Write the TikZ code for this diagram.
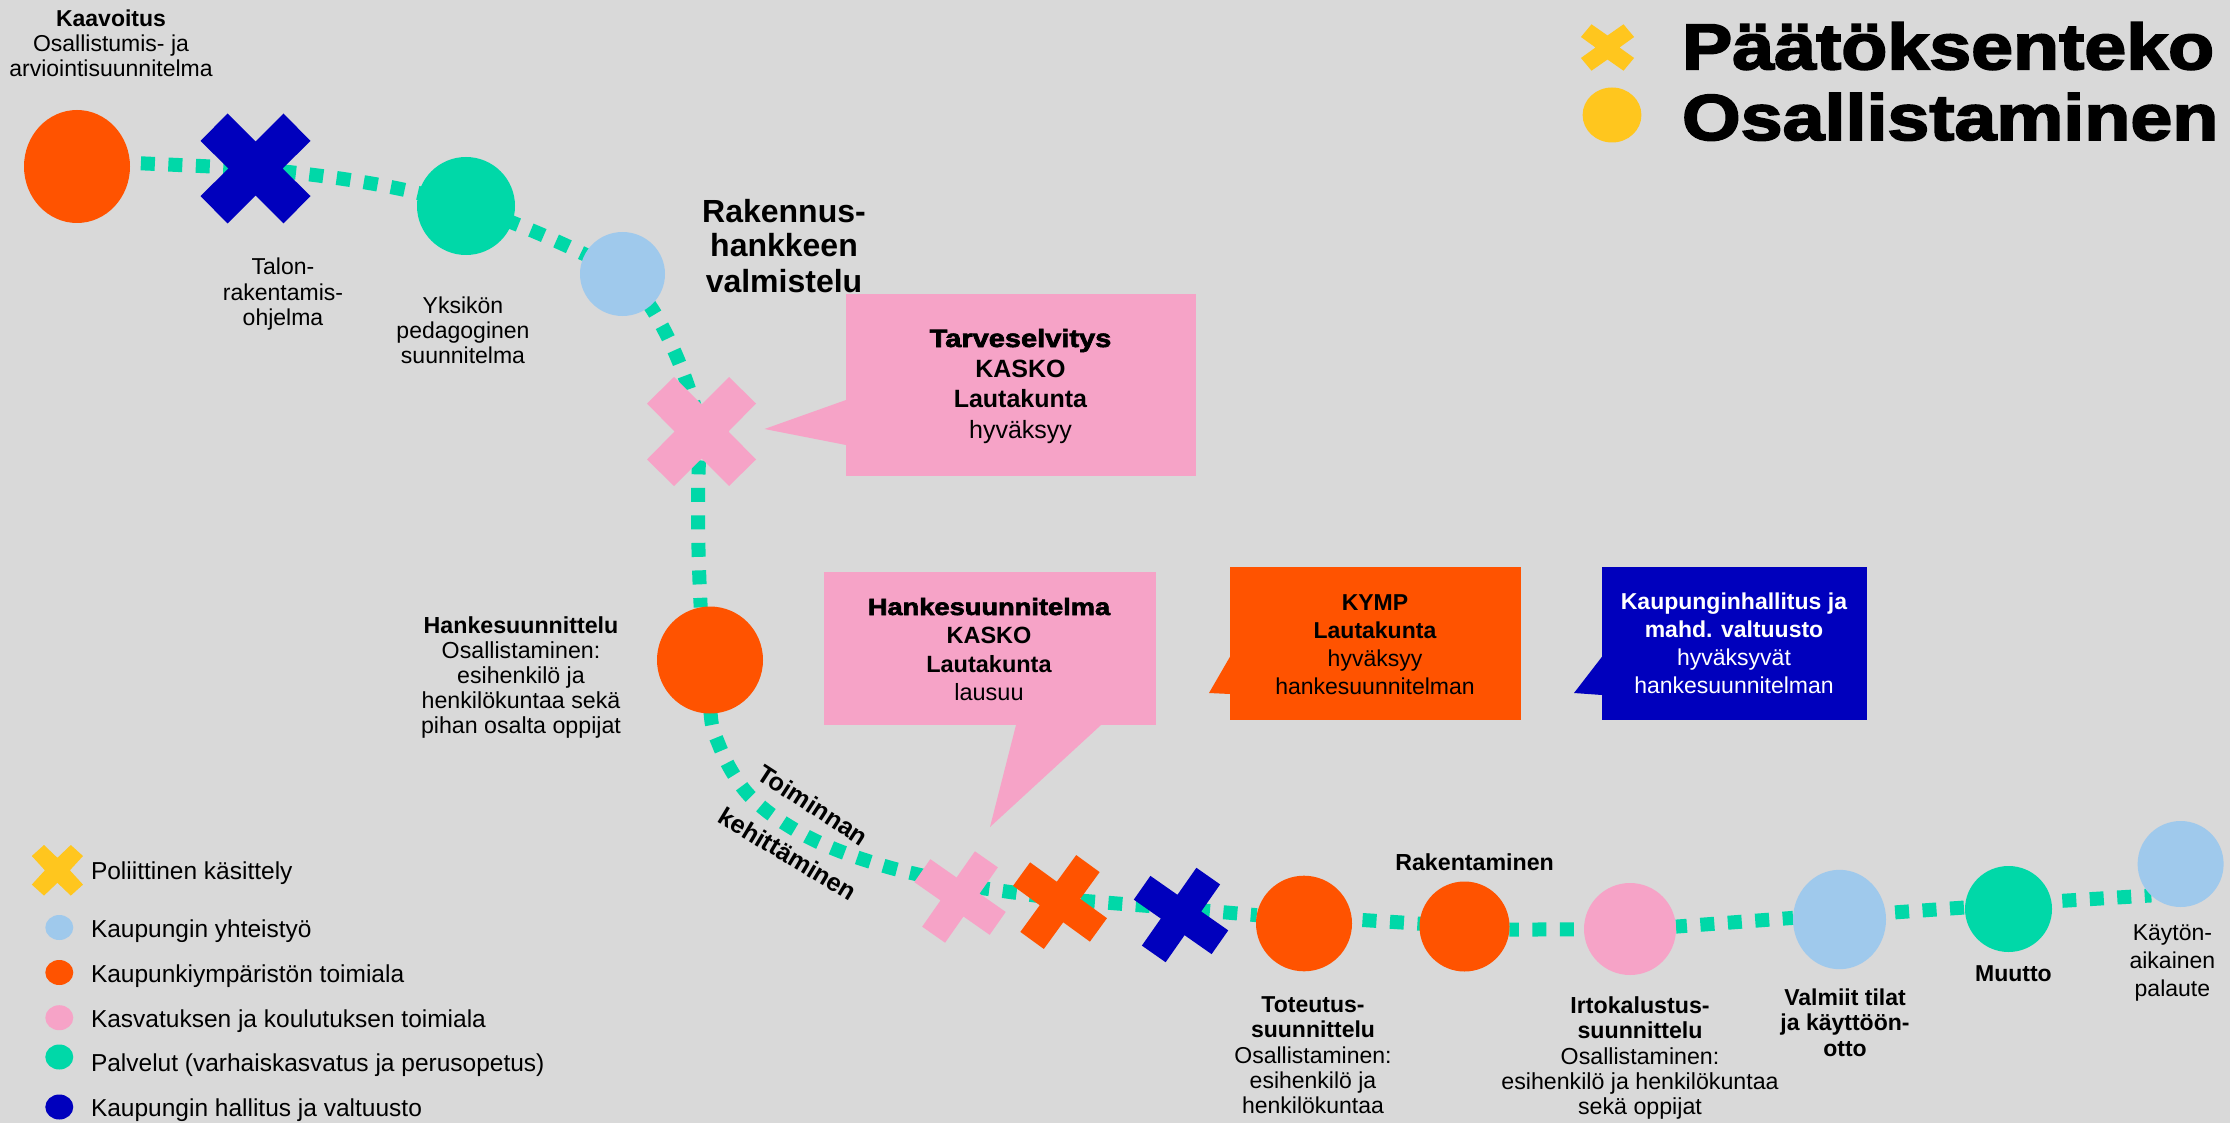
\documentclass[tikz,border=0pt]{standalone}
\usepackage{fontspec}
\setmainfont{Liberation Sans}
\newfontfamily\heavyfont[FakeBold=2.5]{Liberation Sans Bold}
\usetikzlibrary{shapes.geometric,calc}
\definecolor{cPaper}{HTML}{D9D9D9}
\definecolor{cOrange}{HTML}{FF5300}
\definecolor{cBlue}{HTML}{0000BD}
\definecolor{cGreen}{HTML}{00D8A8}
\definecolor{cSky}{HTML}{9FC9EC}
\definecolor{cPink}{HTML}{F6A3C7}
\definecolor{cYellow}{HTML}{FFC61E}
\pgfdeclarelayer{paper}
\pgfdeclarelayer{conn}
\pgfsetlayers{paper,conn,main}
\tikzset{
  conn/.style={draw=cGreen,line width=7pt,dash pattern=on 7pt off 6.75pt},
  stopnode/.style={ellipse,inner sep=0pt,outer sep=0pt,draw=none},
  crossnode/.style={inner sep=0pt,outer sep=0pt,minimum size=0pt},
  boxnode/.style={rectangle,inner sep=0pt,outer sep=0pt,draw=none},
  lbl/.style={inner sep=0pt,outer sep=0pt,align=center,anchor=north},
  slanted label/.style={inner sep=0pt,font=\fontsize{12.6}{14}\selectfont\bfseries}
}
% name, x, y, colour, rx, ry (pixels)
\newcommand{\stopdot}[6]{\node[stopnode,fill=#4,minimum width=#5pt,minimum height=#6pt] (#1) at (#2,#3) {};}
% name, x, y, colour, ax, ay, bx, by, c
\newcommand{\xcross}[9]{%
  \node[crossnode] (#1) at (#2,#3) {};
  \fill[#4,shift={(#2,#3)}] (#7,-#6) -- (#5,-#8) -- (#9,0) -- (#5,#8) -- (#7,#6) -- (0,#9) -- (-#7,#6) -- (-#5,#8) -- (-#9,0) -- (-#5,-#8) -- (-#7,-#6) -- (0,-#9) -- cycle;}
% name, x, y, colour, half length, half width, angle
\newcommand{\gcross}[7]{%
  \node[crossnode] (#1) at (#2,#3) {};
  \fill[#4,shift={(#2,#3)},rotate=#7] (#6,-#5) -- (#6,-#6) -- (#5,-#6) -- (#5,#6) -- (#6,#6) -- (#6,#5) -- (-#6,#5) -- (-#6,#6) -- (-#5,#6) -- (-#5,-#6) -- (-#6,-#6) -- (-#6,-#5) -- cycle;}
% [style], name, x, baseline y of first line (px), size pt, skip pt, text
\newcommand{\blk}[7][]{\node[lbl,font=\fontsize{#5}{#6}\selectfont,#1] (#2) at ({#3},{#4-1.8*#5}) {\rule{0pt}{\dimexpr#5pt*9/10\relax}#7};}
\newcommand{\heavy}[1]{{\heavyfont\scalebox{1.16}[1]{#1}}}
\begin{document}
\begin{tikzpicture}[x=0.5pt,y=-0.5pt]
\useasboundingbox (0,0) rectangle (2230,1123);
\begin{pgfonlayer}{paper}
\fill[cPaper] (0,0) rectangle (2230,1123);
\end{pgfonlayer}

% stops along the route
\stopdot{c1}{77}{166.5}{cOrange}{53}{56.5}
\xcross{x1}{255.5}{168.5}{cBlue}{55}{55}{28}{27.5}{27}
\stopdot{c2}{466}{206}{cGreen}{49}{49}
\stopdot{c3}{622.5}{274}{cSky}{42.5}{42}
\xcross{x2}{701.5}{431.5}{cPink}{54.5}{54.5}{27.5}{28}{27}
\stopdot{c4}{710}{660}{cOrange}{53}{53.5}
\gcross{x3}{960}{897}{cPink}{46}{14}{-35}
\gcross{x4}{1060}{902}{cOrange}{47.5}{14.5}{-36}
\gcross{x5}{1181}{915}{cBlue}{47.5}{14.5}{-35}
\stopdot{c5}{1304}{923.5}{cOrange}{48}{47.8}
\stopdot{c6}{1464.5}{926.5}{cOrange}{45}{45}
\stopdot{c7}{1630}{929}{cPink}{46}{46}
\stopdot{c8}{1839.5}{919.5}{cSky}{46.5}{49.7}
\stopdot{c9}{2008.5}{909}{cGreen}{43.5}{43}
\stopdot{c10}{2180.6}{864}{cSky}{43}{43}

% dotted route
\begin{pgfonlayer}{conn}
\draw[conn,dash phase=8.25pt] (c1.4) -- (x1.center);
\draw[conn,dash phase=0.4pt] (x1.center) .. controls (330,176) and (400,185) .. (c2.center);
\draw[conn,dash phase=6.65pt] (c2.center) .. controls (510,220) and (570,245) .. (c3.center);
\draw[conn,dash phase=8.5pt] (c3.center) .. controls (655,300) and (685,365) .. (x2.center);
\draw[conn,dash phase=13pt] (x2.center) .. controls (696,470) and (698,560) .. (c4.100);
\draw[conn,dash phase=2pt] plot[smooth,tension=.55] coordinates {(c4.center) (711,718) (719,745) (731,770) (747,793) (768,812) (792,828) (816,841) (842,852) (868,861) (895,869) (920,875) ([yshift=6pt]x3.center)};
\draw[conn,dash phase=5.95pt] ([yshift=6pt]x3.center) -- ([yshift=1.5pt]x4.center);
\draw[conn,dash phase=3.25pt] ([yshift=1.5pt]x4.center) -- ([yshift=3.25pt]x5.center);
\draw[conn,dash phase=6.25pt] ([yshift=3.25pt]x5.center) -- (c5.170);
\draw[conn,dash phase=8.4pt] (c5.5) -- (c6.center);
\draw[conn,dash phase=2.25pt] (c6.-4) -- (c7.center);
\draw[conn,dash phase=1.5pt] (c7.3.5) -- (c8.178);
\draw[conn,dash phase=9pt] (c8.8) -- (c9.178);
\draw[conn,dash phase=8.25pt] (c9.10.4) -- (c10.227);
\end{pgfonlayer}

% callouts
\fill[cPink] (846,400) -- (764.5,429) -- (846,445) -- cycle;
\node[boxnode,fill=cPink,minimum width=175pt,minimum height=90.85pt] (bTarve) at (1021,384.85) {};
\fill[cPink] (1016,725) -- (990,827) -- (1101,725) -- cycle;
\node[boxnode,fill=cPink,minimum width=166pt,minimum height=76.5pt] (bHanke) at (989.5,648.5) {};
\fill[cOrange] (1230,656.7) -- (1209,693) -- (1230,694) -- cycle;
\node[boxnode,fill=cOrange,minimum width=145.25pt,minimum height=76.65pt] (bKymp) at (1375.25,643.35) {};
\fill[cBlue] (1602,656.7) -- (1574,693) -- (1602,695) -- cycle;
\node[boxnode,fill=cBlue,minimum width=132.7pt,minimum height=76.65pt] (bHall) at (1734.7,643.35) {};

\blk{tTarve}{1020.5}{347}{12.5}{15.2}{\heavy{Tarveselvitys}\\\textbf{KASKO}\\\textbf{Lautakunta}\hspace*{5pt}\\hyväksyy}
\blk{tHanke}{989}{615}{11.75}{14.3}{\heavy{Hankesuunnitelma}\\\textbf{KASKO}\\\textbf{Lautakunta}\\lausuu}
\blk{tKymp}{1375}{610}{11.5}{14}{\textbf{KYMP}\\\textbf{Lautakunta}\\hyväksyy\\hankesuunnitelman}
\blk[text=white]{tHall}{1734}{609}{11.5}{14}{\textbf{Kaupunginhallitus ja}\\\textbf{mahd. valtuusto}\\hyväksyvät\\hankesuunnitelman}

% labels
\blk{tKaav}{111}{26.5}{11.5}{12.5}{\textbf{Kaavoitus}\\Osallistumis- ja\\arviointisuunnitelma}
\blk{tTalon}{283}{274.5}{11.5}{12.75}{Talon-\\rakentamis-\\ohjelma}
\blk{tYks}{463}{313.5}{11.5}{12.5}{Yksikön\\pedagoginen\\suunnitelma}
\blk{tRak}{784}{222}{16}{17.5}{\textbf{Rakennus-}\\\textbf{hankkeen}\\\textbf{valmistelu}}
\blk{tHs}{521}{633}{11.6}{12.5}{\textbf{Hankesuunnittelu}\\Osallistaminen:\\esihenkilö ja\\henkilökuntaa sekä\\pihan osalta oppijat}
\node[slanted label,rotate=-33] (tToim) at (813,805) {Toiminnan};
\node[slanted label,rotate=-31] (tKeh) at (788,854) {kehittäminen};
\blk{tRakm}{1474.6}{870}{11.6}{12.5}{\textbf{Rakentaminen}}
\blk{tTot}{1313}{1012.7}{11.5}{12.6}{\textbf{Toteutus-}\\\textbf{suunnittelu}\\Osallistaminen:\\esihenkilö ja\\henkilökuntaa}
\blk{tIrt}{1640}{1013.7}{11.6}{12.6}{\textbf{Irtokalustus-}\\\textbf{suunnittelu}\\Osallistaminen:\\esihenkilö ja henkilökuntaa\\sekä oppijat}
\blk{tVal}{1845}{1005}{11.5}{12.75}{\textbf{Valmiit tilat}\\\textbf{ja käyttöön-}\\\textbf{otto}}
\blk{tMuu}{2013.4}{981.7}{11.5}{12.5}{\textbf{Muutto}}
\blk{tKay}{2172.4}{940.7}{11.5}{14}{Käytön-\\aikainen\\palaute}

% top-right key
\xcross{kx}{1607.5}{47.5}{cYellow}{26.6}{23.2}{16}{10.5}{12}
\stopdot{kc}{1612}{115}{cYellow}{29.4}{27.5}
\blk[anchor=north west]{kt1}{1682}{69.3}{32.5}{32.5}{\heavy{Päätöksenteko}}
\blk[anchor=north west]{kt2}{1682}{140}{32.5}{32.5}{\heavy{Osallistaminen}}

% bottom-left legend
\xcross{lx}{57.4}{870.3}{cYellow}{25.6}{25.3}{13.4}{14.3}{12.5}
\stopdot{l1}{59.3}{927.5}{cSky}{14}{12.5}
\stopdot{l2}{59.3}{972.5}{cOrange}{14}{12.5}
\stopdot{l3}{59.3}{1017.7}{cPink}{14}{12.5}
\stopdot{l4}{59.3}{1057}{cGreen}{14}{12.5}
\stopdot{l5}{59.3}{1107}{cBlue}{14}{12.5}
\blk[anchor=north west]{lt0}{91}{879}{12.25}{14}{Poliittinen käsittely}
\blk[anchor=north west]{lt1}{91}{937.7}{12.25}{14}{Kaupungin yhteistyö}
\blk[anchor=north west]{lt2}{91}{982.7}{12.25}{14}{Kaupunkiympäristön toimiala}
\blk[anchor=north west]{lt3}{91}{1027}{12.25}{14}{Kasvatuksen ja koulutuksen toimiala}
\blk[anchor=north west]{lt4}{91}{1071.7}{12.25}{14}{Palvelut (varhaiskasvatus ja perusopetus)}
\blk[anchor=north west]{lt5}{91}{1116}{12.25}{14}{Kaupungin hallitus ja valtuusto}
\end{tikzpicture}
\end{document}
